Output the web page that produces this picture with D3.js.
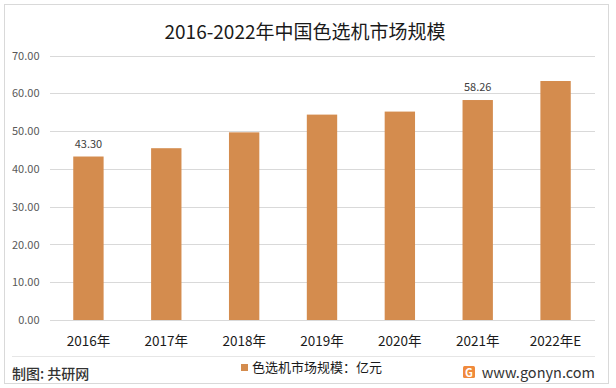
<!DOCTYPE html>
<html><head><meta charset="utf-8">
<script src="https://cdn.jsdelivr.net/npm/d3@7/dist/d3.min.js"></script>
<style>
body{margin:0;background:#fff;}
text{font-family:"Noto Sans CJK SC","Noto Sans",sans-serif;}
</style></head>
<body><svg id="c" width="616" height="388"></svg>
<script>
const categories = ["2016年","2017年","2018年","2019年","2020年","2021年","2022年E"];
const values = [43.30, 45.5, 49.7, 54.4, 55.2, 58.26, 63.3];
const labeled = [true, false, false, false, false, true, false];
const yTicks = [0,10,20,30,40,50,60,70];
const title = "2016-2022年中国色选机市场规模";
const legendLabel = "色选机市场规模：亿元";
const source = "制图: 共研网";
const site = "www.gonyn.com";

const svg = d3.select("#c");
svg.append("rect").attr("x",0).attr("y",0).attr("width",616).attr("height",388).attr("fill","#fff");
svg.append("rect").attr("x",4.5).attr("y",4.5).attr("width",604).attr("height",379)
  .attr("fill","none").attr("stroke","#d9d9d9").attr("stroke-width",1);

const x = d3.scaleBand().domain(categories).range([49.5,594.5]).paddingInner(0.61).paddingOuter(0.305);
const y = d3.scaleLinear().domain([0,70]).range([320,55.7]);

svg.append("text").attr("x",305).attr("y",38.5).attr("text-anchor","middle")
  .attr("font-size",19).attr("fill","#1a1a1a").text(title);

// grid
const yAxis = d3.axisLeft(y).tickValues(yTicks).tickSize(-(594.5-49.5)).tickFormat(d3.format(".2f"));
const ga = svg.append("g").attr("transform","translate(49.5,0)").call(yAxis);
ga.select(".domain").remove();
ga.selectAll(".tick line").attr("stroke","#d9d9d9").attr("shape-rendering","crispEdges");
ga.selectAll(".tick text").attr("x",-10).attr("font-size",11).attr("fill","#595959")
  .attr("font-family","'Noto Sans CJK SC',sans-serif");

// bars
svg.append("g").selectAll("rect").data(values).join("rect")
  .attr("x",(d,i)=>x(categories[i])).attr("width",x.bandwidth())
  .attr("y",d=>y(d)).attr("height",d=>y(0)-y(d)).attr("fill","#d48c4e");

// x axis
const xAxis = d3.axisBottom(x).tickSize(0).tickPadding(16);
const gx = svg.append("g").attr("transform","translate(0,320)").call(xAxis);
gx.select(".domain").attr("stroke","#d9d9d9").attr("shape-rendering","crispEdges");
gx.selectAll(".tick text").attr("font-size",13.5).attr("fill","#1a1a1a")
  .attr("font-family","'Noto Sans CJK SC',sans-serif");

// data labels
svg.append("g").selectAll("text").data(values.map((v,i)=>({v,i})).filter(d=>labeled[d.i])).join("text")
  .attr("x",d=>x(categories[d.i])+x.bandwidth()/2).attr("y",d=>y(d.v)-9)
  .attr("text-anchor","middle").attr("font-size",11).attr("fill","#404040")
  .text(d=>d3.format(".2f")(d.v));

// separator
svg.append("line").attr("x1",12).attr("x2",595).attr("y1",356.5).attr("y2",356.5)
  .attr("stroke","#e6e6e6");

// legend
svg.append("rect").attr("x",241).attr("y",364).attr("width",7).attr("height",7).attr("fill","#d48c4e");
svg.append("text").attr("x",252).attr("y",372).attr("font-size",13).attr("fill","#1a1a1a").text(legendLabel);

// source
svg.append("text").attr("x",12).attr("y",378.5).attr("font-size",14).attr("font-weight",500).attr("fill","#333").text(source);

// logo
const lg = svg.append("g").attr("transform","translate(463,366)");
lg.append("rect").attr("width",12).attr("height",12).attr("rx",1.5).attr("fill","#f08a3c");
lg.append("text").attr("x",6).attr("y",10.5).attr("text-anchor","middle").attr("font-size",11).attr("font-weight",700).attr("fill","#fff").text("G");
svg.append("text").attr("x",595).attr("y",377.5).attr("text-anchor","end").attr("font-size",14.5).attr("fill","#333").text(site);
</script></body></html>
